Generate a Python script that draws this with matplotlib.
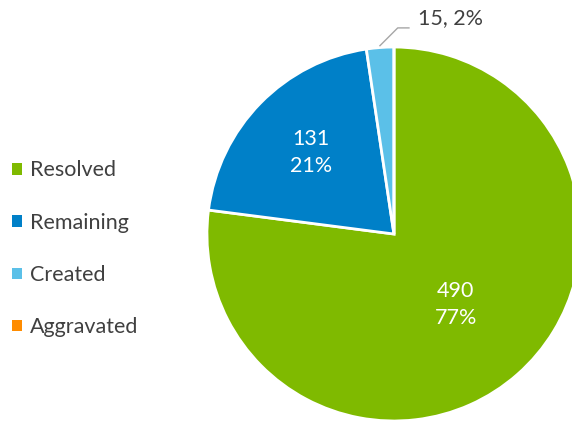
import numpy as np
import matplotlib
matplotlib.use("Agg")
import matplotlib.pyplot as plt
from matplotlib.patches import Patch

# data
categories = ["Resolved", "Remaining", "Created", "Aggravated"]
counts = [490, 131, 15, 0]
colors = ["#7fba00", "#0080c8", "#5bc0e8", "#ff8c00"]

plt.rcParams['font.family'] = ['Lato', 'DejaVu Sans']

fig = plt.figure(figsize=(5.72, 4.24), dpi=100)
ax = fig.add_axes([0.3618, 0.0071, 0.6538, 0.882])

wedges, _ = ax.pie(counts, colors=colors, startangle=90, counterclock=False,
                   radius=1, wedgeprops=dict(edgecolor="white", linewidth=2))
ax.set_xlim(-1, 1)
ax.set_ylim(-1, 1)
ax.set_aspect("equal")
ax.axis("off")

total = sum(counts)
pcts = [round(100 * c / total) for c in counts]

# inside labels
inside_dist = {0: 0.5, 1: 0.62}
for i, d in inside_dist.items():
    w = wedges[i]
    ang = np.deg2rad((w.theta1 + w.theta2) / 2)
    ax.text(d * np.cos(ang), d * np.sin(ang), "%d\n%d%%" % (counts[i], pcts[i]),
            ha="center", va="center", color="white", fontsize=15.5, linespacing=1.45)

# outside label for created slice with leader line
w = wedges[2]
ang = np.deg2rad((w.theta1 + w.theta2) / 2)
sx, sy = 1.01 * np.cos(ang), 1.01 * np.sin(ang)
cx, cy = sx + 0.095, sy + 0.095
ex = cx + 0.06
ax.plot([sx, cx, ex], [sy, cy, cy], color="#a6a6a6", lw=1, clip_on=False)
ax.text(ex + 0.05, cy + 0.055, "%d, %d%%" % (counts[2], pcts[2]),
        ha="left", va="center", color="#404040", fontsize=15.5, clip_on=False)

handles = [Patch(facecolor=c, edgecolor="none") for c in colors]
fig.legend(handles, categories, loc="center left", bbox_to_anchor=(-0.013, 0.413),
           frameon=False, fontsize=15.5, labelcolor="#404040",
           handlelength=0.45, handleheight=0.45, handletextpad=0.4, labelspacing=1.5)

fig.savefig("out.png", dpi=100)
